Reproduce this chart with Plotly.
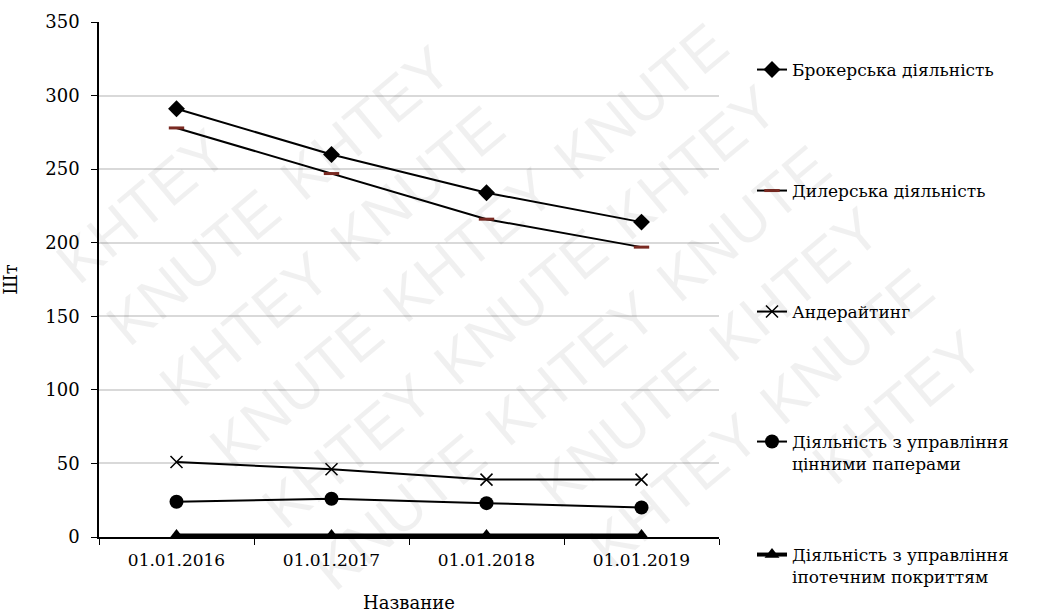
import plotly.graph_objects as go

# Кількість ліцензій за видами професійної діяльності на ринку цінних паперів
dates = ["01.01.2016", "01.01.2017", "01.01.2018", "01.01.2019"]
brokerage = [291, 260, 234, 214]
dealer = [278, 247, 216, 197]
underwriting = [51, 46, 39, 39]
securities_mgmt = [24, 26, 23, 20]
mortgage_mgmt = [1, 1, 1, 1]

names = [
    "Брокерська діяльність",
    "Дилерська діяльність",
    "Андерайтинг",
    "Діяльність з управління<br>цінними паперами",
    "Діяльність з управління<br>іпотечним покриттям",
]

FONT = "DejaVu Serif"
W, H = 1045, 614
L, R, T, B = 99, 326, 22, 77
PW, PH = W - L - R, H - T - B

fig = go.Figure()

fig.add_trace(go.Scatter(
    x=dates, y=brokerage, name=names[0], mode="lines+markers",
    line=dict(color="black", width=2),
    marker=dict(symbol="diamond", size=13, color="black"),
    legend="legend",
))
fig.add_trace(go.Scatter(
    x=dates, y=dealer, name=names[1], mode="lines+markers",
    line=dict(color="black", width=2),
    marker=dict(symbol="line-ew", size=11, color="#7a2a22",
                line=dict(color="#7a2a22", width=3)),
    legend="legend2",
))
fig.add_trace(go.Scatter(
    x=dates, y=underwriting, name=names[2], mode="lines+markers",
    line=dict(color="black", width=2),
    marker=dict(symbol="x-thin", size=12, color="black",
                line=dict(color="black", width=1.5)),
    legend="legend3",
))
fig.add_trace(go.Scatter(
    x=dates, y=securities_mgmt, name=names[3], mode="lines+markers",
    line=dict(color="black", width=2),
    marker=dict(symbol="circle", size=14, color="black"),
    legend="legend4",
))
fig.add_trace(go.Scatter(
    x=dates, y=mortgage_mgmt, name=names[4], mode="lines+markers",
    line=dict(color="black", width=4),
    marker=dict(symbol="triangle-up", size=13, color="black"),
    cliponaxis=False,
    legend="legend5",
))

# Кожен елемент легенди розміщується окремо праворуч від графіка
legend_centers_px = [70, 191, 312, 453, 566]
legend_left_px = 752


def legend_box(cy):
    return dict(
        x=(legend_left_px - L) / PW, xanchor="left",
        y=(H - B - cy) / PH, yanchor="middle",
        font=dict(family=FONT, size=17, color="black"),
        valign="top", bgcolor="rgba(0,0,0,0)",
    )


# Водяний знак: слова, розкладені вздовж діагональних рядів
words = ["KNUTE", "KHTEY"]
cos_a, sin_a = 0.766, 0.643
watermarks = []
for j in range(-12, 12):
    for i in range(-8, 8):
        px = 520 + i * 225 * cos_a + j * 80 * sin_a
        py = 307 - i * 225 * sin_a + j * 80 * cos_a
        if 104 <= px <= W - 104 and 96 <= py <= H - 96:
            watermarks.append(dict(
                text=words[(i + j) % 2],
                x=(px - L) / PW, y=(H - B - py) / PH,
                xref="paper", yref="paper", showarrow=False,
                xanchor="center", yanchor="middle",
                textangle=-40,
                font=dict(family="Liberation Sans", size=60,
                          color="rgba(0,0,0,0.06)"),
            ))

layout = dict(
    width=W, height=H,
    margin=dict(l=L, r=R, t=T, b=B),
    paper_bgcolor="white", plot_bgcolor="white",
    font=dict(family=FONT, size=18, color="black"),
    showlegend=True,
    xaxis=dict(
        type="category", range=[-0.5, 3.5], automargin=False,
        title=dict(text="Название", font=dict(family=FONT, size=18), standoff=27),
        showline=True, linecolor="black", linewidth=1.5,
        ticks="outside", ticklen=6, tickcolor="black",
        tickson="boundaries", ticklabelstandoff=7,
        showgrid=False, zeroline=False,
        tickfont=dict(family=FONT, size=17),
    ),
    yaxis=dict(
        range=[0, 350], dtick=50, automargin=False,
        title=dict(text="Шт", font=dict(family=FONT, size=18), standoff=26),
        showline=True, linecolor="black", linewidth=1.5,
        ticks="outside", ticklen=6, tickcolor="black",
        ticklabelstandoff=8,
        showgrid=True, gridcolor="#d9d9d9", gridwidth=1.5,
        zeroline=False,
        tickfont=dict(family=FONT, size=18),
    ),
    annotations=watermarks,
)
for k, cy in enumerate(legend_centers_px):
    key = "legend" if k == 0 else f"legend{k + 1}"
    layout[key] = legend_box(cy)

fig.update_layout(**layout)

fig.write_html("out.html")
